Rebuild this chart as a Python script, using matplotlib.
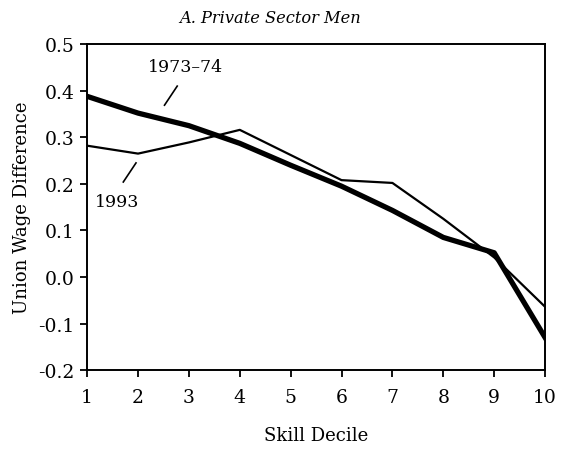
import numpy as np
from matplotlib import pyplot as plt

deciles = [1, 2, 3, 4, 5, 6, 7, 8, 9, 10]
wage_7374 = [0.388, 0.352, 0.325, 0.287, 0.240, 0.195, 0.143, 0.085, 0.052, -0.130]
wage_1993 = [0.282, 0.265, 0.289, 0.316, 0.262, 0.208, 0.202, 0.125, 0.042, -0.064]
yticks = [0.5, 0.4, 0.3, 0.2, 0.1, 0.0, -0.1, -0.2]
ytick_labels = ['0.5', '0.4', '0.3', '0.2', '0.1', '0.0', '-0.1', '-0.2']

plt.rcParams['font.family'] = ['DejaVu Serif']

fig = plt.figure(figsize=(5.66, 4.52), dpi=100)
ax = fig.add_axes([0.154, 0.179, 0.809, 0.721])

ax.plot(deciles, wage_7374, color='black', lw=3.8, solid_joinstyle='round')
ax.plot(deciles, wage_1993, color='black', lw=1.6)

# labels with short pointer lines
ax.text(2.93, 0.453, '1973\u201374', ha='center', va='center', fontsize=12.5)
ax.plot([2.52, 2.77], [0.369, 0.41], color='black', lw=1.2)
ax.text(1.59, 0.163, '1993', ha='center', va='center', fontsize=12.5)
ax.plot([1.71, 1.96], [0.204, 0.245], color='black', lw=1.2)

ax.set_xlim(1, 10)
ax.set_ylim(-0.2, 0.5)
ax.set_xticks(deciles)
ax.set_yticks(yticks)
ax.set_yticklabels(ytick_labels)
ax.tick_params(labelsize=13.5, width=1.3, length=5, direction='out')
ax.tick_params(axis='x', pad=8)
ax.tick_params(axis='y', pad=4)
for s in ax.spines.values():
    s.set_linewidth(1.4)

ax.set_xlabel('Skill Decile', fontsize=13, labelpad=14)
ax.set_ylabel('Union Wage Difference', fontsize=13, labelpad=5)
fig.text(0.477, 0.958, 'A. Private Sector Men', ha='center', va='center',
         fontsize=11.7, style='italic')

plt.savefig('out.png', dpi=100)
